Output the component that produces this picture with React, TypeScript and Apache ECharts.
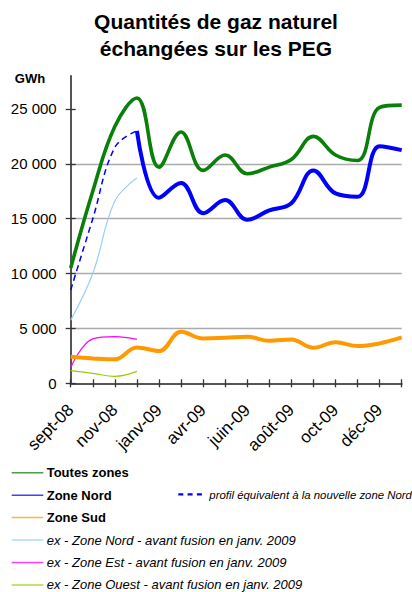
import React, { useEffect, useRef } from "react";
import * as echarts from "echarts";

const months = [
  "sept-08", "oct-08", "nov-08", "déc-08", "janv-09", "févr-09", "avr-09", "mai-09",
  "juin-09", "juil-09", "août-09", "sept-09", "oct-09", "nov-09", "déc-09", "janv-10",
];
const toutesZones = [10500, 17500, 23400, 26000, 19700, 22900, 19400, 20800, 19100, 19700, 20400, 22500, 20800, 20300, 25150, 25350];
const zoneNord = [null, null, null, 23000, 16900, 18250, 15500, 16700, 14900, 15750, 16400, 19400, 17300, 17000, 21600, 21250];
const profilNord = [8500, 15000, 21500, 23000, null, null, null, null, null, null, null, null, null, null, null, null];
const zoneSud = [2420, 2270, 2180, 3270, 2940, 4690, 4090, 4150, 4240, 3870, 4000, 3240, 3750, 3390, 3640, 4180];
const exNord = [5750, 10000, 16600, 18700];
const exEst = [1450, 4050, 4250, 4000];
const exOuest = [1150, 910, 640, 1090];
const yTicks = [0, 5000, 10000, 15000, 20000, 25000];

const FONT = "'Liberation Sans', Arial, sans-serif";

const names = {
  tz: "Toutes zones",
  zn: "Zone Nord",
  zs: "Zone Sud",
  exN: "ex - Zone Nord - avant fusion en janv. 2009",
  exE: "ex - Zone Est - avant fusion en janv. 2009",
  exO: "ex - Zone Ouest - avant fusion en janv. 2009",
  prof: "profil équivalent à la nouvelle zone Nord",
};
const colors = {
  tz: "#0a7f0a",
  zn: "#0000ff",
  zs: "#ff9900",
  exN: "#99ccff",
  exE: "#ff00ff",
  exO: "#99cc00",
  prof: "#0000ff",
};

export default function App() {
  const ref = useRef<HTMLDivElement>(null);
  useEffect(() => {
    const chart = echarts.init(ref.current as HTMLDivElement, null, { renderer: "svg" });

    const legendRows: { key: keyof typeof names; bold: boolean }[] = [
      { key: "tz", bold: true },
      { key: "zn", bold: true },
      { key: "zs", bold: true },
      { key: "exN", bold: false },
      { key: "exE", bold: false },
      { key: "exO", bold: false },
    ];
    const legendGraphics: any[] = [];
    legendRows.forEach((r, i) => {
      const y = 472.7 + i * 22.45;
      legendGraphics.push({
        type: "line",
        shape: { x1: 11.7, y1: y, x2: 43.3, y2: y },
        style: { stroke: colors[r.key], lineWidth: 1.5, opacity: 0.75 },
      });
      legendGraphics.push({
        type: "text",
        x: 46.7,
        y,
        style: {
          text: names[r.key],
          font: `${r.bold ? "bold" : "italic"} 13px ${FONT}`,
          fill: "#000",
          verticalAlign: "middle",
          align: "left",
        },
      });
    });
    legendGraphics.push({
      type: "line",
      shape: { x1: 178.3, y1: 494.3, x2: 206, y2: 494.3 },
      style: { stroke: colors.prof, lineWidth: 2.2, lineDash: [5, 4.3] },
    });
    legendGraphics.push({
      type: "text",
      x: 209.3,
      y: 494.8,
      style: {
        text: names.prof,
        font: `italic 11.4px ${FONT}`,
        fill: "#000",
        verticalAlign: "middle",
        align: "left",
      },
    });

    const line = (name: string, data: any[], color: string, width: number, extra: any = {}) => ({
      type: "line",
      name,
      data,
      smooth: 0.4,
      symbol: "none",
      connectNulls: false,
      lineStyle: { color, width, ...(extra.lineStyle || {}) },
      itemStyle: { color },
      xAxisIndex: 0,
      yAxisIndex: 0,
      z: extra.z ?? 2,
    });

    const option: any = {
      animation: false,
      backgroundColor: "#fff",
      textStyle: { fontFamily: FONT },
      grid: { left: 70.7, right: 10.3, top: 76, bottom: 208.7, containLabel: false },
      xAxis: [
        {
          type: "category",
          data: months,
          boundaryGap: false,
          axisLine: { show: true, lineStyle: { color: "#555", width: 2 } },
          axisTick: { show: true, inside: false, length: 4, interval: 0, lineStyle: { color: "#333", width: 1.3 } },
          axisLabel: {
            interval: 1,
            rotate: 45,
            margin: 24,
            fontSize: 17,
            color: "#000",
            fontFamily: FONT,
          },
          splitLine: { show: false },
        },
        {
          type: "category",
          data: months,
          boundaryGap: false,
          position: "bottom",
          axisLine: { show: false },
          axisTick: { show: true, inside: true, length: 4, interval: 0, lineStyle: { color: "#333", width: 1.3 } },
          axisLabel: { show: false },
          splitLine: { show: false },
        },
      ],
      yAxis: [
        {
          type: "value",
          min: 0,
          max: 28000,
          interval: 5000,
          axisLine: { show: true, lineStyle: { color: "#555", width: 2 } },
          axisTick: { show: true, inside: false, length: 5, customValues: yTicks, lineStyle: { color: "#333", width: 1.3 } },
          axisLabel: {
            customValues: yTicks,
            margin: 14,
            fontSize: 15,
            color: "#000",
            fontFamily: FONT,
            formatter: (v: number) => (v === 0 ? "0" : `${Math.round(v / 1000)} 000`),
          },
          splitLine: {
            show: true,
            showMinLine: false,
            showMaxLine: false,
            lineStyle: { color: "#ababab", width: 1.3 },
          },
        },
        {
          type: "value",
          min: 0,
          max: 28000,
          interval: 5000,
          position: "left",
          axisLine: { show: false },
          axisTick: { show: true, inside: true, length: 5, customValues: yTicks, lineStyle: { color: "#333", width: 1.3 } },
          axisLabel: { show: false },
          splitLine: { show: false },
        },
      ],
      series: [
        line(names.exN, exNord, colors.exN, 1.2),
        line(names.exE, exEst, colors.exE, 1.2),
        line(names.exO, exOuest, colors.exO, 1.2),
        line(names.zs, zoneSud, colors.zs, 4),
        line(names.tz, toutesZones, colors.tz, 3.6),
        line(names.zn, zoneNord, colors.zn, 4),
        line(names.prof, profilNord, colors.prof, 1.5, { lineStyle: { type: [6, 4] }, z: 3 }),
      ],
      graphic: [
        {
          type: "text",
          x: 216,
          y: 21,
          style: {
            text: "Quantités de gaz naturel",
            font: `bold 21px ${FONT}`,
            fill: "#000",
            align: "center",
            verticalAlign: "middle",
          },
        },
        {
          type: "text",
          x: 216,
          y: 48,
          style: {
            text: "échangées sur les PEG",
            font: `bold 21px ${FONT}`,
            fill: "#000",
            align: "center",
            verticalAlign: "middle",
          },
        },
        {
          type: "text",
          x: 30,
          y: 78.5,
          style: {
            text: "GWh",
            font: `bold 13px ${FONT}`,
            fill: "#000",
            align: "center",
            verticalAlign: "middle",
          },
        },
        ...legendGraphics,
      ],
    };
    chart.setOption(option);
    return () => chart.dispose();
  }, []);
  return (
    <div
      ref={ref}
      style={{ position: "fixed", left: 0, top: 0, width: 412, height: 592 }}
    />
  );
}
